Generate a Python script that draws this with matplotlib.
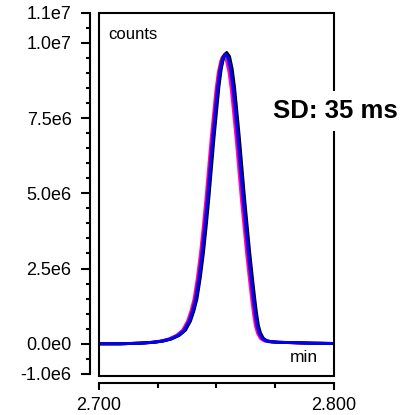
import matplotlib.pyplot as plt
from matplotlib.patches import Rectangle
from matplotlib.ticker import FixedLocator, FixedFormatter

plt.rcParams["font.family"] = ["Liberation Sans", "DejaVu Sans"]

# peak profile (time in min, counts in 1e6)
prof_t = [2.7000, 2.7091, 2.7176, 2.7232, 2.7270, 2.7305, 2.7338, 2.7364, 2.7385,
          2.7400, 2.7413, 2.7427, 2.7440, 2.7452, 2.7463, 2.7474, 2.7485, 2.7496,
          2.7506, 2.7516, 2.7527, 2.7539,
          2.7551, 2.7562, 2.7572, 2.7582, 2.7593, 2.7604, 2.7615, 2.7626, 2.7637,
          2.7648, 2.7658, 2.7666, 2.7674, 2.7683, 2.7695, 2.7710, 2.7730, 2.7760,
          2.7816, 2.7900, 2.8000]
prof_y = [0.00, 0.00, 0.02, 0.05, 0.09, 0.16, 0.28, 0.45, 0.75,
          1.10, 1.50, 2.20, 3.00, 3.90, 4.80, 5.80, 6.80, 7.70,
          8.50, 9.10, 9.50, 9.63,
          9.50, 9.10, 8.50, 7.70, 6.80, 5.80, 4.80, 3.90, 3.00,
          2.20, 1.50, 1.00, 0.60, 0.35, 0.18, 0.10, 0.07, 0.05,
          0.04, 0.02, 0.01]

# replicate injections: colour, retention shift (min), height factor
trace_colors = ["#ff00ff", "#e00000", "#00806a", "#000000", "#0000ff"]
trace_shift = [-0.0008, -0.0003, 0.0001, 0.0005, 0.0000]
trace_scale = [0.99, 1.00, 0.995, 1.005, 1.00]

y_ticks = [-1.0e6, 0.0, 2.5e6, 5.0e6, 7.5e6, 1.0e7, 1.1e7]
y_labels = ["-1.0e6", "0.0e0", "2.5e6", "5.0e6", "7.5e6", "1.0e7", "1.1e7"]
x_ticks = [2.700, 2.800]
x_labels = ["2.700", "2.800"]

fig = plt.figure(figsize=(4.08, 4.15), dpi=100)
ax = fig.add_axes([0.2419, 0.094, 0.5767, 0.8754])

for c, dt, k in zip(trace_colors, trace_shift, trace_scale):
    ax.plot([t + dt for t in prof_t], [v * 1e6 * k for v in prof_y],
            color=c, lw=2.1, solid_capstyle="round", solid_joinstyle="round")

ax.set_xlim(2.7, 2.8)
ax.set_ylim(-1.07e6, 1.1e7)

# frame around the plot area
ax.add_patch(Rectangle((0, 0), 1, 1, transform=ax.transAxes, fill=False,
                       lw=1.5, color="black", zorder=5, clip_on=False))

ax.spines["top"].set_visible(False)
ax.spines["right"].set_visible(False)
ax.spines["left"].set_position(("outward", 6))
ax.spines["bottom"].set_position(("outward", 5))
ax.spines["left"].set_bounds(-1e6, 1.1e7)
ax.spines["bottom"].set_bounds(2.7, 2.8)
for s in ["left", "bottom"]:
    ax.spines[s].set_linewidth(1.5)

ax.yaxis.set_major_locator(FixedLocator(y_ticks))
ax.yaxis.set_major_formatter(FixedFormatter(y_labels))
ax.yaxis.set_minor_locator(FixedLocator([i * 0.5e6 for i in range(-2, 23)]))
ax.xaxis.set_major_locator(FixedLocator(x_ticks))
ax.xaxis.set_major_formatter(FixedFormatter(x_labels))
ax.xaxis.set_minor_locator(FixedLocator([2.725, 2.75, 2.775]))

ax.tick_params(axis="y", which="major", length=6.5, width=1.5, labelsize=13, pad=7)
ax.tick_params(axis="y", which="minor", length=3.2, width=1.5)
ax.tick_params(axis="x", which="major", length=5, width=1.5, labelsize=13, pad=5)
ax.tick_params(axis="x", which="minor", length=3.8, width=1.5)

ax.text(0.04, 0.94, "counts", transform=ax.transAxes, fontsize=12,
        ha="left", va="center")
ax.text(0.93, 0.05, "min", transform=ax.transAxes, fontsize=12.5,
        ha="right", va="center")
ax.text(1.005, 0.73, "SD: 35 ms", transform=ax.transAxes, fontsize=18.5,
        fontweight="bold", ha="center", va="center", zorder=6,
        bbox=dict(facecolor="white", edgecolor="none", pad=6))

fig.savefig("out.png", dpi=100)
